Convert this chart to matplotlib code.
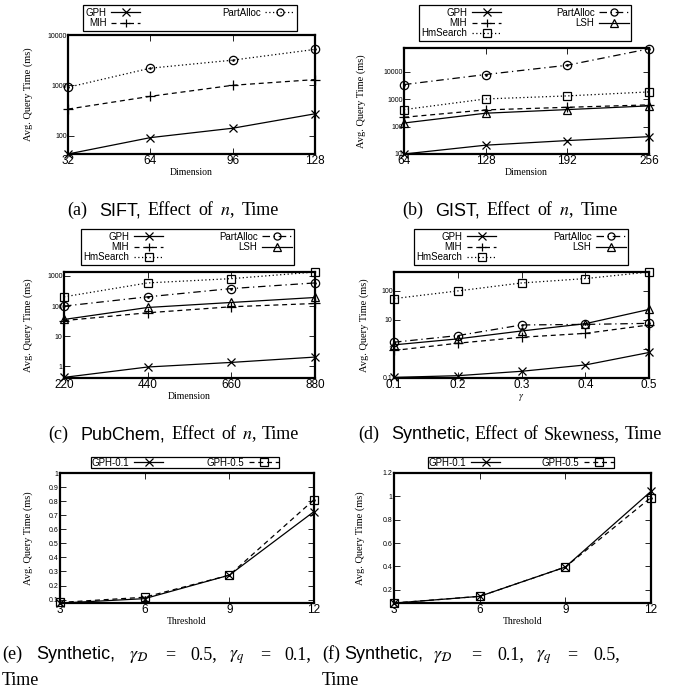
import matplotlib
matplotlib.use("Agg")
import matplotlib.pyplot as plt
import numpy as np

plt.rcParams['mathtext.fontset'] = 'stix'

# ---------------- data ----------------
sift_dim = [32, 64, 96, 128]
sift_gph = [43, 91, 140, 271]
sift_mih = [336, 603, 1000, 1298]
sift_part = [912, 2188, 3162, 5176]

gist_dim = [64, 128, 192, 256]
gist_gph = [10, 21, 31, 43]
gist_mih = [220, 410, 510, 625]
gist_lsh = [136, 310, 420, 575]
gist_hm = [420, 1030, 1330, 1860]
gist_part = [3450, 8050, 17600, 70000]

pub_dim = [220, 440, 660, 880]
pub_gph = [0.43, 0.95, 1.35, 2.03]
pub_mih = [33, 60, 95, 122]
pub_lsh = [36, 90, 132, 193]
pub_part = [100, 203, 382, 588]
pub_hm = [203, 588, 816, 1355]

skew_gamma = [0.1, 0.2, 0.3, 0.4, 0.5]
skew_gph = [0.105, 0.12, 0.17, 0.28, 0.75]
skew_mih = [0.88, 1.56, 2.5, 3.4, 6.6]
skew_lsh = [1.37, 2.2, 4.1, 7.3, 22.5]
skew_part = [1.69, 2.85, 6.6, 6.9, 7.5]
skew_hm = [53, 97, 182, 257, 433]

thr = [3, 6, 9, 12]
e_gph01 = [0.075, 0.107, 0.274, 0.726]
e_gph05 = [0.080, 0.117, 0.274, 0.81]
f_gph01 = [0.085, 0.143, 0.394, 1.043]
f_gph05 = [0.086, 0.143, 0.394, 0.99]

W, H = 697, 690
fig = plt.figure(figsize=(W / 100, H / 100), dpi=100)
renderer = fig.canvas.get_renderer()

SERIF = ['Liberation Serif', 'DejaVu Serif']
SANS = ['Liberation Sans', 'DejaVu Sans']

def make_ax(l, r, t, b):
    ax = fig.add_axes([l / W, 1 - b / H, (r - l) / W, (b - t) / H])
    ax._px = (l, r)
    return ax

def style(ax, xticks, xlabels, yticks, ylabels, xlabel, ylab_x):
    for s in ax.spines.values():
        s.set_linewidth(1.6)
    ax.set_xticks(xticks)
    ax.set_xticklabels(xlabels, fontfamily=SANS, fontsize=8.5)
    ax.set_yticks(yticks)
    ax.set_yticklabels(ylabels, fontfamily=SANS, fontsize=5)
    ax.yaxis.set_minor_locator(matplotlib.ticker.NullLocator())
    ax.tick_params(direction='in', top=True, right=True, length=4, width=0.6, pad=1)
    ax.tick_params(axis='x', pad=0.5)
    ax.set_xlabel(xlabel, fontfamily=SERIF, fontsize=7, labelpad=1)
    ax.set_ylabel("Avg. Query Time (ms)", fontfamily=SERIF, fontsize=7.5)
    l, r = ax._px
    ax.yaxis.set_label_coords((ylab_x + 5 - l) / (r - l), 0.5)

def series(ax, x, y, ls, marker, label, ms=6, dot=False):
    ax.plot(x, y, color='black', ls=ls, lw=0.9, marker=marker, ms=ms,
            mfc='none', mec='black', mew=0.9, label=label, clip_on=False)
    if dot:
        ax.plot(x, y, ls='none', marker='.', ms=1.8, color='black', clip_on=False)

def legend(ax, l, r, t, b, bp=0.25):
    lg = ax.legend(loc='center', bbox_to_anchor=(l / W, 1 - b / H, (r - l) / W, (b - t) / H),
                   bbox_transform=fig.transFigure, ncol=2, markerfirst=False, mode='expand',
                   frameon=True, fancybox=False, edgecolor='black', framealpha=1,
                   prop={'family': SANS, 'size': 7}, handlelength=3.0,
                   handletextpad=0.5, columnspacing=1.0, labelspacing=0.05,
                   borderpad=bp, borderaxespad=0, markerscale=0.85)
    lg.get_frame().set_linewidth(0.9)
    return lg

DD = (0, (4, 3))
DOT = (0, (1, 2))
DASHDOT = (0, (6, 3, 1, 3))

# (a)
ax = make_ax(68, 315, 35, 154)
series(ax, sift_dim, sift_gph, '-', 'x', 'GPH')
series(ax, sift_dim, sift_mih, DD, '+', 'MIH', ms=7)
series(ax, sift_dim, sift_part, DOT, 'o', 'PartAlloc', dot=True)
ax.set_yscale('log')
ax.set_xlim(32, 128); ax.set_ylim(43, 10000)
style(ax, sift_dim, [str(v) for v in sift_dim], [100, 1000, 10000], ['100', '1000', '10000'], 'Dimension', 28)
legend(ax, 83, 297, 5, 31)

# (b)
ax = make_ax(404, 649, 48, 154)
series(ax, gist_dim, gist_gph, '-', 'x', 'GPH')
series(ax, gist_dim, gist_mih, DD, '+', 'MIH', ms=7)
series(ax, gist_dim, gist_hm, DOT, 's', 'HmSearch')
series(ax, gist_dim, gist_part, DASHDOT, 'o', 'PartAlloc', dot=True)
series(ax, gist_dim, gist_lsh, '-', '^', 'LSH')
ax.set_yscale('log')
ax.set_xlim(64, 256); ax.set_ylim(10, 75000)
style(ax, gist_dim, [str(v) for v in gist_dim], [10, 100, 1000, 10000], ['10', '100', '1000', '10000'], 'Dimension', 361)
legend(ax, 419, 631, 5, 41)

# (c)
ax = make_ax(64, 315, 272, 378)
series(ax, pub_dim, pub_gph, '-', 'x', 'GPH')
series(ax, pub_dim, pub_mih, DD, '+', 'MIH', ms=7)
series(ax, pub_dim, pub_hm, DOT, 's', 'HmSearch')
series(ax, pub_dim, pub_part, DASHDOT, 'o', 'PartAlloc', dot=True)
series(ax, pub_dim, pub_lsh, '-', '^', 'LSH')
ax.set_yscale('log')
ax.set_xlim(220, 880); ax.set_ylim(0.41, 1355)
style(ax, pub_dim, [str(v) for v in pub_dim], [1, 10, 100, 1000], ['1', '10', '100', '1000'], 'Dimension', 28)
legend(ax, 81, 294, 229, 265)

# (d)
ax = make_ax(394, 649, 272, 378)
series(ax, skew_gamma, skew_gph, '-', 'x', 'GPH')
series(ax, skew_gamma, skew_mih, DD, '+', 'MIH', ms=7)
series(ax, skew_gamma, skew_hm, DOT, 's', 'HmSearch')
series(ax, skew_gamma, skew_part, DASHDOT, 'o', 'PartAlloc', dot=True)
series(ax, skew_gamma, skew_lsh, '-', '^', 'LSH')
ax.set_yscale('log')
ax.set_xlim(0.1, 0.5); ax.set_ylim(0.1, 433)
style(ax, skew_gamma, [f"{g:.1f}" for g in skew_gamma], [0.1, 1, 10, 100], ['0.1', '1', '10', '100'], r'$\gamma$', 364)
legend(ax, 414, 628, 229, 265)

# (e)
ax = make_ax(60, 314, 473, 603)
series(ax, thr, e_gph01, '-', 'x', 'GPH-0.1')
series(ax, thr, e_gph05, DD, 's', 'GPH-0.5', dot=True)
ax.set_xlim(3, 12); ax.set_ylim(0.076, 1.0)
yt = [0.1, 0.2, 0.3, 0.4, 0.5, 0.6, 0.7, 0.8, 0.9, 1.0]
style(ax, thr, [str(v) for v in thr], yt, ['0.1', '0.2', '0.3', '0.4', '0.5', '0.6', '0.7', '0.8', '0.9', '1'], 'Threshold', 28)
legend(ax, 91, 279, 457, 468, bp=0.05)

# (f)
ax = make_ax(394, 651, 473, 603)
series(ax, thr, f_gph01, '-', 'x', 'GPH-0.1')
series(ax, thr, f_gph05, DD, 's', 'GPH-0.5', dot=True)
ax.set_xlim(3, 12); ax.set_ylim(0.086, 1.2)
yt = [0.2, 0.4, 0.6, 0.8, 1.0, 1.2]
style(ax, thr, [str(v) for v in thr], yt, ['0.2', '0.4', '0.6', '0.8', '1', '1.2'], 'Threshold', 360)
legend(ax, 428, 614, 457, 468, bp=0.05)

# ---------------- captions (mixed fonts) ----------------
CAP = 13
FONTS = {'r': SERIF, 's': SANS}

def make_piece(txt, kind, x, y):
    fam = FONTS.get(kind, SERIF)
    return fig.text(x / W, 1 - y / H, txt, fontfamily=fam, fontsize=CAP,
                    ha='left', va='baseline')

def width_px(t):
    return t.get_window_extent(renderer).width

def caption_centered(cx, y, pieces, gap_label=12, gap=7):
    texts = [make_piece(txt, k, 0, y) for txt, k in pieces]
    widths = [width_px(t) for t in texts]
    total = sum(widths) + gap_label + gap * (len(pieces) - 2)
    x = cx - total / 2
    for i, (t, w) in enumerate(zip(texts, widths)):
        t.set_x(x / W)
        x += w + (gap_label if i == 0 else gap)

def caption_at(y, placed):
    for x, txt, k in placed:
        make_piece(txt, k, x, y)

caption_centered(173, 215, [("(a)", 'r'), ("SIFT,", 's'), ("Effect", 'r'), ("of", 'r'),
                            (r"$n$,", 'r'), ("Time", 'r')])
caption_centered(510, 215, [("(b)", 'r'), ("GIST,", 's'), ("Effect", 'r'), ("of", 'r'),
                            (r"$n$,", 'r'), ("Time", 'r')])
caption_centered(174, 439, [("(c)", 'r'), ("PubChem,", 's'), ("Effect", 'r'), ("of", 'r'),
                            (r"$n$,", 'r'), ("Time", 'r')], gap=6)
caption_centered(510, 439, [("(d)", 'r'), ("Synthetic,", 's'), ("Effect", 'r'), ("of", 'r'),
                            ("Skewness,", 'r'), ("Time", 'r')], gap=5)

caption_at(659, [(2, "(e)", 'r'), (36, "Synthetic,", 's'), (129, r"$\gamma_{\mathcal{D}}$", 'r'),
                 (165, "=", 'r'), (190, "0.5,", 'r'), (229, r"$\gamma_q$", 'r'),
                 (260, "=", 'r'), (284, "0.1,", 'r')])
caption_at(685, [(2, "Time", 'r')])
caption_at(659, [(322, "(f)", 'r'), (344, "Synthetic,", 's'), (433, r"$\gamma_{\mathcal{D}}$", 'r'),
                 (471, "=", 'r'), (497, "0.1,", 'r'), (536, r"$\gamma_q$", 'r'),
                 (567, "=", 'r'), (593, "0.5,", 'r')])
caption_at(685, [(322, "Time", 'r')])

fig.savefig("out.png", dpi=100)
